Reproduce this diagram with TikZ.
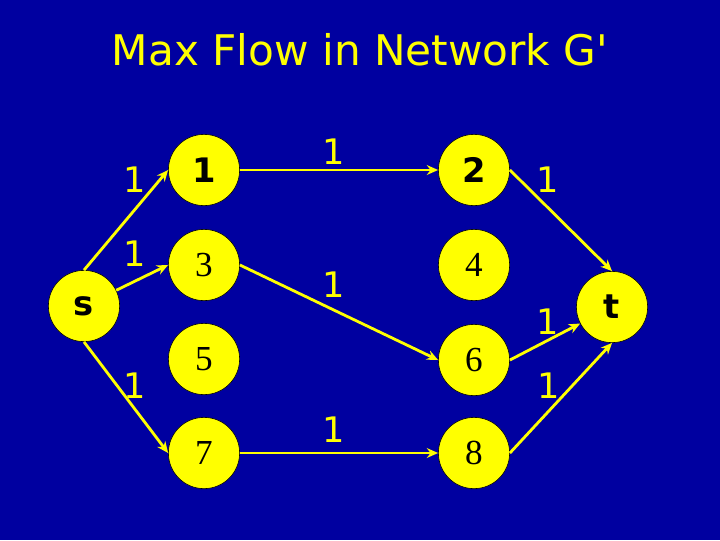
\documentclass[tikz,border=0pt]{standalone}
\usepackage{fontspec}
\setmainfont{Liberation Serif}
\setsansfont{DejaVu Sans}
\usetikzlibrary{arrows.meta}

\definecolor{slideblue}{RGB}{0,0,160}
\definecolor{slideyellow}{RGB}{255,255,0}

\tikzset{
	vertex/.style = {circle, fill = slideyellow, draw = black, thin, minimum size = 1.78cm, inner sep = 0pt},
	numsans/.style = {font = \sffamily\bfseries\fontsize{24}{24}\selectfont},
	numserif/.style = {font = \rmfamily\fontsize{25}{25}\selectfont},
	flowlabel/.style = {text = slideyellow, font = \sffamily\fontsize{25}{25}\selectfont},
	flow/.style = {draw = slideyellow, line width = 2pt, -{Stealth[length = 8pt, width = 7pt]}}
}

\begin{document}
\begin{tikzpicture}[x = .025cm, y = -.025cm]
	% background
	\fill [slideblue] (0, 0) rectangle (720, 540);
	\useasboundingbox (0, 0) rectangle (720, 540);
	
	% title
	\node [text = slideyellow, font = \sffamily\fontsize{30}{30}\selectfont] (title) at (360, 50) {Max Flow in Network G\textquotesingle};
	
	% source and sink
	\node [vertex, numsans] (s) at (84, 306) {s};
	\node [vertex, numsans] (t) at (612, 307) {t};
	
	% left column
	\node [vertex, numsans] (n1) at (204, 170) {1};
	\node [vertex, numserif] (n3) at (204, 265) {3};
	\node [vertex, numserif] (n5) at (204, 359) {5};
	\node [vertex, numserif] (n7) at (204, 453) {7};
	
	% right column
	\node [vertex, numsans] (n2) at (474, 170) {2};
	\node [vertex, numserif] (n4) at (474, 265) {4};
	\node [vertex, numserif] (n6) at (474, 360) {6};
	\node [vertex, numserif] (n8) at (474, 453) {8};
	
	% flow edges
	\draw [flow] (s.north) -- (n1.west);
	\draw [flow] (s) -- (n3.west);
	\draw [flow] (s.south) -- (n7.west);
	
	\draw [flow] (n1.east) -- (n2.west);
	\draw [flow] (n3.east) -- (n6.west);
	\draw [flow] (n7.east) -- (n8.west);
	
	\draw [flow] (n2.east) -- (t.north);
	\draw [flow] (n6.east) -- (t);
	\draw [flow] (n8.east) -- (t.south);
	
	% edge labels
	\node [flowlabel] (ls1) at (135, 180) {1};
	\node [flowlabel] (ls3) at (135, 254) {1};
	\node [flowlabel] (ls7) at (135, 386) {1};
	\node [flowlabel] (l12) at (334, 152) {1};
	\node [flowlabel] (l36) at (334, 285) {1};
	\node [flowlabel] (l78) at (334, 430) {1};
	\node [flowlabel] (l2t) at (548, 180) {1};
	\node [flowlabel] (l6t) at (548, 322) {1};
	\node [flowlabel] (l8t) at (549, 386) {1};
\end{tikzpicture}
\end{document}
